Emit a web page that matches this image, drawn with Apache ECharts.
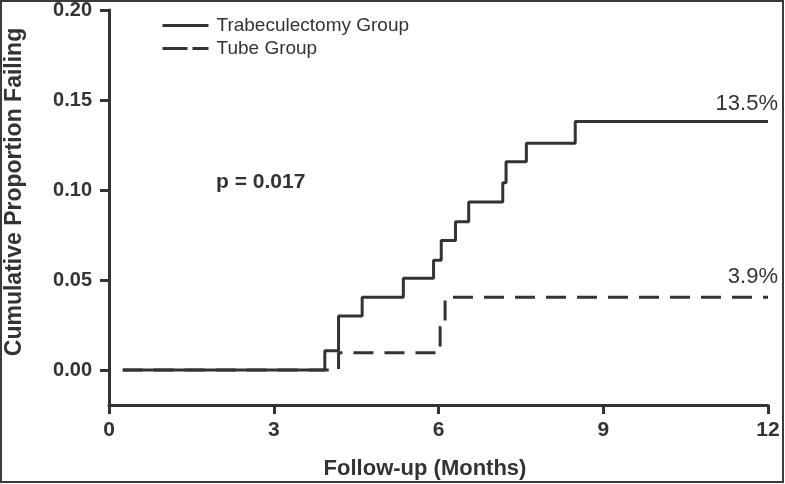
<!DOCTYPE html>
<html>
<head>
<meta charset="utf-8">
<script src="https://cdn.jsdelivr.net/npm/echarts@6/dist/echarts.min.js"></script>
<style>
html,body{margin:0;padding:0;background:#fff;}
#c{width:785px;height:484px;}
</style>
</head>
<body>
<div id="c"></div>
<script>
// Data (Kaplan-Meier style step curves)
const trabTime = [0.25, 3.93, 4.18, 4.61, 5.36, 5.91, 6.05, 6.31, 6.55, 7.17, 7.23, 7.60, 8.49, 12.0];
const trabCum  = [0.000, 0.0107, 0.030, 0.0404, 0.051, 0.061, 0.072, 0.0824, 0.0933, 0.104, 0.1157, 0.126, 0.138, 0.138];
const tubeTime = [0.25, 4.18, 6.03, 6.12, 12.0];
const tubeCum  = [0.000, 0.0096, 0.024, 0.0404, 0.0404];
const xTicks = [0, 3, 6, 9, 12];
const yTicks = [0, 0.05, 0.10, 0.15, 0.20];
const seriesNames = ['Trabeculectomy Group', 'Tube Group'];
const pText = 'p = 0.017';
const endLabels = ['13.5%', '3.9%'];

const FONT = "'Liberation Sans', Arial, Helvetica, sans-serif";
const INK = '#333';

const chart = echarts.init(document.getElementById('c'), null, {renderer: 'canvas'});

const zip = (a, b) => a.map((v, i) => [v, b[i]]);

chart.setOption({
  animation: false,
  backgroundColor: '#fff',
  grid: {left: 109, right: 17, top: 10, bottom: 79, containLabel: false},
  legend: {
    orient: 'vertical',
    left: 161,
    top: 16,
    padding: 0,
    itemWidth: 46,
    itemHeight: 14,
    itemGap: 4,
    itemStyle: {opacity: 0},
    textStyle: {fontFamily: FONT, fontSize: 19, color: INK, padding: [0, 0, 0, 3]},
    data: [
      {name: seriesNames[0], itemStyle: {opacity: 0}, lineStyle: {type: 'solid', width: 3, color: INK}},
      {name: seriesNames[1], itemStyle: {opacity: 0}, lineStyle: {type: [25, 5], width: 3, color: INK}}
    ]
  },
  xAxis: {
    type: 'value',
    min: 0,
    max: 12,
    interval: 3,
    splitLine: {show: false},
    axisLine: {show: true, onZero: false, lineStyle: {color: INK, width: 3}},
    axisTick: {show: true, length: 9, lineStyle: {color: INK, width: 3}, customValues: xTicks},
    axisLabel: {fontFamily: FONT, fontSize: 21, fontWeight: 'bold', color: INK, margin: 15, customValues: xTicks}
  },
  yAxis: {
    type: 'value',
    min: -0.0194,
    max: 0.20,
    splitLine: {show: false},
    axisLine: {show: true, onZero: false, lineStyle: {color: INK, width: 3}},
    axisTick: {show: true, length: 9, lineStyle: {color: INK, width: 3}, customValues: yTicks},
    axisLabel: {
      fontFamily: FONT, fontSize: 20, fontWeight: 'bold', color: INK, margin: 17,
      customValues: yTicks,
      formatter: v => v.toFixed(2)
    }
  },
  series: [
    {
      name: seriesNames[1],
      type: 'line',
      step: 'end',
      symbol: 'none',
      showSymbol: false,
      data: zip(tubeTime, tubeCum),
      lineStyle: {color: INK, width: 3, type: [20, 11]},
      itemStyle: {color: INK},
      z: 2
    },
    {
      name: seriesNames[0],
      type: 'line',
      step: 'end',
      symbol: 'none',
      showSymbol: false,
      data: zip(trabTime, trabCum),
      lineStyle: {color: INK, width: 3, type: 'solid'},
      itemStyle: {color: INK},
      z: 3
    }
  ],
  graphic: [
    {type: 'rect', silent: true, shape: {x: 1, y: 1, width: 782, height: 481},
     style: {fill: 'none', stroke: '#3a3a3a', lineWidth: 2}, z: 100},
    {type: 'text', x: 15, y: 192, rotation: Math.PI / 2,
     style: {text: 'Cumulative Proportion Failing', font: "bold 23px " + FONT, fill: INK, align: 'center', verticalAlign: 'middle'}},
    {type: 'text', x: 425, y: 469,
     style: {text: 'Follow-up (Months)', font: "bold 22px " + FONT, fill: INK, align: 'center', verticalAlign: 'middle'}},
    {type: 'text', x: 216, y: 182,
     style: {text: pText, font: "bold 21px " + FONT, fill: INK, align: 'left', verticalAlign: 'middle'}},
    {type: 'text', x: 778, y: 104,
     style: {text: endLabels[0], font: "22px " + FONT, fill: INK, align: 'right', verticalAlign: 'middle'}},
    {type: 'text', x: 778, y: 277,
     style: {text: endLabels[1], font: "22px " + FONT, fill: INK, align: 'right', verticalAlign: 'middle'}}
  ]
});
</script>
</body>
</html>
